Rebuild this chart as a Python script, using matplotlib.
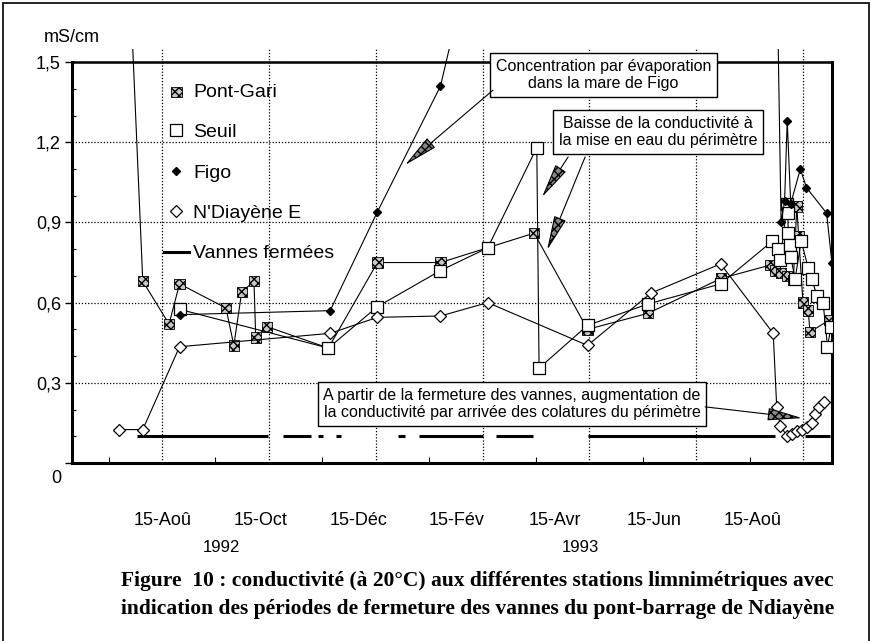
import matplotlib
matplotlib.use('Agg')
import matplotlib.pyplot as plt
from matplotlib.lines import Line2D
from matplotlib.transforms import ScaledTranslation

plt.rcParams['font.family'] = ['Liberation Sans', 'DejaVu Sans']

# jours comptés depuis le 15 juin 1992 ; conductivité en mS/cm
pont_jours = [42, 50, 65, 71, 97.5, 102, 106.5, 113.5, 114.5, 121, 156, 184, 220, 273.5,
              304, 338.5, 380, 408, 411, 414.5, 418, 421.5, 423.5, 424.5, 427, 430, 431, 442]
pont_cond = [1.90, 0.68, 0.52, 0.67, 0.58, 0.44, 0.64, 0.68, 0.47, 0.51, 0.43, 0.75, 0.75, 0.86,
             0.50, 0.56, 0.69, 0.74, 0.72, 0.71, 0.70, 0.685, 0.96, 0.85, 0.60, 0.57, 0.49, 0.535]

seuil_jours = [71, 156, 184, 220, 247, 275, 276.3, 304, 338.5, 380, 409.5, 413, 414, 418,
               418.3, 418.6, 419.7, 420, 422.5, 426, 430, 432, 435, 438.5, 441, 443]
seuil_cond = [0.575, 0.43, 0.585, 0.72, 0.805, 1.18, 0.355, 0.515, 0.595, 0.67, 0.83, 0.80, 0.76, 0.97,
              0.935, 0.86, 0.815, 0.77, 0.69, 0.83, 0.73, 0.69, 0.625, 0.60, 0.435, 0.51]

figo_jours = [71, 157, 184, 220, 237.5, 412, 414.5, 416.5, 418, 420, 425.5, 429, 440.5, 443.5]
figo_cond = [0.555, 0.57, 0.94, 1.41, 1.90, 1.90, 0.90, 0.98, 1.28, 0.97, 1.10, 1.03, 0.935, 0.75]

ndiay_jours = [36.5, 50, 71, 157, 184, 220, 247, 304, 340, 380, 410, 412, 414, 418, 421,
               423.5, 426.5, 429.5, 432, 434, 436, 439]
ndiay_cond = [0.125, 0.125, 0.435, 0.485, 0.545, 0.55, 0.60, 0.44, 0.635, 0.745, 0.485, 0.21,
              0.14, 0.10, 0.11, 0.12, 0.125, 0.135, 0.15, 0.185, 0.21, 0.23]

# périodes de fermeture des vannes
vannes_debut = [46.7, 130, 150, 160.4, 195.8, 207.8, 251.7, 304.3, 428.2]
vannes_fin = [121.5, 146, 153, 163.2, 199.8, 244.3, 272.9, 411.1, 442.5]
vannes_niveau = 0.1

grille_jours = [61, 122, 183, 244, 305, 366, 427]
etiq_jours = [61.5, 117, 173, 229, 285.5, 342, 398]
etiq_mois = ['15-Aoû', '15-Oct', '15-Déc', '15-Fév', '15-Avr', '15-Jun', '15-Aoû']
annees = ['1992', '1993']
annees_jours = [95, 300]

y_ticks = [0, 0.3, 0.6, 0.9, 1.2, 1.5]
y_labels = ['0', '0,3', '0,6', '0,9', '1,2', '1,5']

fig = plt.figure(figsize=(8.74, 6.41), dpi=100)
ax = fig.add_axes([0.0824, 0.2777, 0.8696, 0.6463])

ax.hlines([vannes_niveau] * len(vannes_debut), vannes_debut, vannes_fin, color='k', lw=2.2, zorder=2)

ax.plot(pont_jours, pont_cond, '-', color='k', lw=0.8, zorder=3)
pg = ax.scatter(pont_jours, pont_cond, marker='s', s=55, facecolor='#c8c8c8', edgecolor='k',
                hatch='xxxx', linewidths=0.6, zorder=4)
ax.plot(seuil_jours, seuil_cond, '-', marker='s', ms=8.5, mfc='white', mec='k', mew=0.9,
        color='k', lw=0.8, zorder=5)
ax.plot(figo_jours, figo_cond, '-', marker='D', ms=4.5, mfc='k', mec='k',
        color='k', lw=0.8, zorder=6)
ax.plot(ndiay_jours, ndiay_cond, '-', marker='D', ms=6.5, mfc='white', mec='k', mew=0.9,
        color='k', lw=0.8, zorder=5)

# cadre
for side in ['left', 'right']:
    ax.spines[side].set_bounds(0, 1.5)
    ax.spines[side].set_linewidth(2.2)
ax.spines['bottom'].set_linewidth(2.2)
ax.spines['top'].set_visible(False)
ax.axhline(1.5, color='k', lw=1.8, zorder=7)

ax.set_yticks(y_ticks, y_labels)
ax.set_yticks([i / 10 for i in range(1, 15)], minor=True)
ax.tick_params(axis='y', which='major', direction='out', length=5, width=1, labelsize=13, pad=3)
ax.tick_params(axis='y', which='minor', direction='in', length=3, width=0.8)
zero = ax.get_yticklabels()[0]
zero.set_transform(zero.get_transform() + ScaledTranslation(0, -14 / 100, fig.dpi_scale_trans))

ax.set_xticks(grille_jours, [''] * len(grille_jours))
ax.set_xticks([j - 30.5 for j in grille_jours], minor=True)
ax.tick_params(axis='x', which='major', length=0)
ax.tick_params(axis='x', which='minor', direction='in', length=4, width=0.8)
ax.grid(True, which='major', ls=(0, (1, 1.5)), color='k', lw=0.9)

# limites après les graduations (set_xticks peut les élargir)
ax.set_xlim(9.6, 443.6)
ax.set_ylim(0, 1.55)

xt = ax.get_xaxis_transform()
for j, lab in zip(etiq_jours, etiq_mois):
    ax.text(j, -0.138, lab, transform=xt, ha='center', va='center', fontsize=13)
for j, lab in zip(annees_jours, annees):
    ax.text(j, -0.205, lab, transform=xt, ha='center', va='center', fontsize=12)

fig.text(0.082, 0.942, 'mS/cm', ha='center', va='center', fontsize=13)

# légende
poignees = [pg,
            Line2D([], [], ls='none', marker='s', ms=8.5, mfc='white', mec='k', mew=0.9),
            Line2D([], [], ls='none', marker='D', ms=4.5, mfc='k', mec='k'),
            Line2D([], [], ls='none', marker='D', ms=6.5, mfc='white', mec='k', mew=0.9),
            Line2D([], [], color='k', lw=2.2)]
noms = ['Pont-Gari', 'Seuil', 'Figo', "N'Diayène E", 'Vannes fermées']
ax.legend(poignees, noms, loc='upper left', bbox_to_anchor=(0.108, 0.94), frameon=False,
          fontsize=14, labelspacing=1.17, handlelength=1.3, handletextpad=0.2, borderpad=0)

# annotations
boite = dict(boxstyle='square,pad=0.35', fc='white', ec='k', lw=1)
fleche = dict(arrowstyle='-|>,head_length=2.2,head_width=0.4', lw=0.8, fc='#888', ec='k',
              hatch='xxxx', shrinkA=0, shrinkB=0, mutation_scale=10)
ax.text(0.699, 0.9365, 'Concentration par évaporation\ndans la mare de Figo', transform=ax.transAxes,
        ha='center', va='center', fontsize=11.5, linespacing=1.2, bbox=boite, zorder=8)
ax.text(0.771, 0.799, 'Baisse de la conductivité à\nla mise en eau du périmètre', transform=ax.transAxes,
        ha='center', va='center', fontsize=11.5, linespacing=1.2, bbox=boite, zorder=8)
ax.text(0.579, 0.1424, 'A partir de la fermeture des vannes, augmentation de\n'
        'la conductivité par arrivée des colatures du périmètre', transform=ax.transAxes,
        ha='center', va='center', fontsize=11.5, linespacing=1.2, bbox=boite, zorder=8)

ax.annotate('', xy=(199.8, 1.115), xytext=(250.0, 1.395), arrowprops=fleche, zorder=8)
ax.annotate('', xy=(278, 0.995), xytext=(292.9, 1.145), arrowprops=fleche, zorder=8)
ax.annotate('', xy=(280.9, 0.797), xytext=(302.6, 1.145), arrowprops=fleche, zorder=8)
ax.annotate('', xy=(426.5, 0.168), xytext=(371.1, 0.21), arrowprops=fleche, zorder=8)

fig.text(0.546, 0.0936, 'Figure  10 : conductivité (à 20°C) aux différentes stations limnimétriques avec',
         ha='center', va='center', family='Liberation Serif', weight='bold', fontsize=15.5)
fig.text(0.546, 0.0499, 'indication des périodes de fermeture des vannes du pont-barrage de Ndiayène',
         ha='center', va='center', family='Liberation Serif', weight='bold', fontsize=15.5)

fig.add_artist(plt.Rectangle((0.004, -0.01), 0.99, 1.005, transform=fig.transFigure,
                             fill=False, lw=1.2, ec='k'))

fig.savefig('out.png', dpi=100)
